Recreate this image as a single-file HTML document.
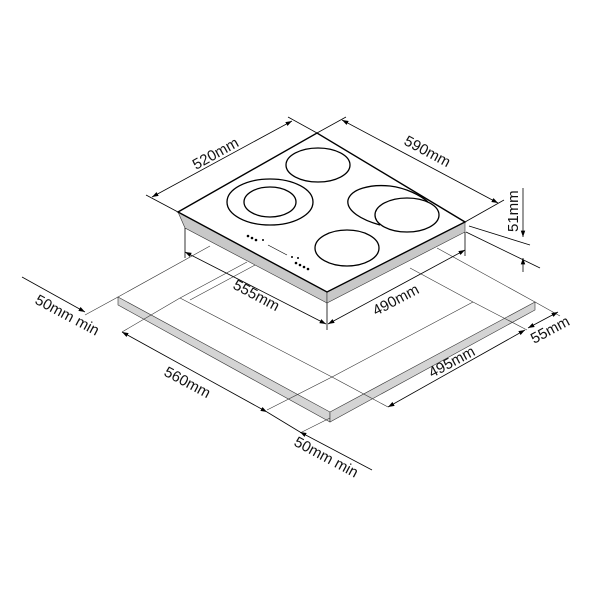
<!DOCTYPE html>
<html><head><style>body{margin:0;background:#fff}svg{display:block}text{font-family:"Liberation Sans",Arial,sans-serif;font-size:15px;fill:#111}</style></head><body>
<svg width="600" height="600" viewBox="0 0 600 600" xmlns="http://www.w3.org/2000/svg">
<defs><marker id="a" viewBox="0 0 10 10" refX="10" refY="5" markerWidth="8" markerHeight="8" orient="auto-start-reverse"><path d="M0,1.5L10,5L0,8.5z" fill="#000"/></marker></defs>
<g stroke="#333" stroke-width="0.6" fill="none">
<polygon points="118,297 330,412 330,422 118,305" fill="#d4d4d4"/>
<polygon points="330,412 535,302 535,310 330,422" fill="#d4d4d4"/>
<line x1="118" y1="297" x2="210" y2="246"/>
<line x1="535" y1="302" x2="437" y2="248"/>
<line x1="180" y1="298" x2="247" y2="262"/>
<line x1="190" y1="300" x2="257" y2="264"/>
<line x1="473" y1="302" x2="410" y2="268"/>
<line x1="180" y1="298" x2="332" y2="377"/>
<line x1="332" y1="377" x2="473" y2="302"/>
<line x1="85" y1="315" x2="118" y2="297"/>
<line x1="122" y1="332" x2="180" y2="298"/>
<line x1="267" y1="410" x2="332" y2="377"/>
<line x1="300" y1="433" x2="330" y2="418"/>
<line x1="332" y1="377" x2="388" y2="407"/>
<line x1="473" y1="302" x2="527" y2="330"/>
<line x1="535" y1="302" x2="560" y2="316"/>
</g>
<polygon points="178,212 327,292 327,303 185,228" fill="#c8c8c8" stroke="#333" stroke-width="0.6"/>
<polygon points="327,292 465,222 465,232 327,303" fill="#c8c8c8" stroke="#333" stroke-width="0.6"/>
<polygon points="178,212 317,133 465,222 327,292" fill="#fff" stroke="#000" stroke-width="1.4"/>
<g fill="none" stroke="#000" stroke-width="1.3">
<ellipse cx="318" cy="165" rx="32" ry="17"/>
<ellipse cx="270" cy="202" rx="43" ry="23"/>
<ellipse cx="270" cy="202" rx="26" ry="15"/>
<ellipse cx="347" cy="248" rx="32" ry="18"/>
<path d="M380,225 C362,220 346,211 348,200 C351,189 370,184 390,186 C406,188 420,195 428,202"/>
<ellipse cx="407" cy="215" rx="32" ry="17"/>
</g>
<g fill="#000"><circle cx="248" cy="236" r="1.3"/><circle cx="252" cy="238" r="1.3"/><circle cx="256" cy="240" r="1.3"/><circle cx="263" cy="240" r="1"/><circle cx="296" cy="263" r="1.3"/><circle cx="300" cy="265" r="1.3"/><circle cx="304" cy="267" r="1.3"/><circle cx="308" cy="269" r="1.3"/><circle cx="292" cy="257" r="1"/><circle cx="298" cy="258" r="1"/></g>
<line x1="268" y1="245" x2="287" y2="255" stroke="#000" stroke-width="0.6"/>
<g stroke="#000" stroke-width="0.8" fill="none">
<line x1="178" y1="212" x2="146" y2="195"/><line x1="317" y1="133" x2="288" y2="117"/>
<line x1="152" y1="197" x2="292" y2="121" marker-start="url(#a)" marker-end="url(#a)"/>
<line x1="317" y1="133" x2="346" y2="117"/><line x1="465" y1="222" x2="504" y2="200"/>
<line x1="342" y1="120" x2="498" y2="203" marker-start="url(#a)" marker-end="url(#a)"/>
<line x1="469" y1="226" x2="530" y2="245"/><line x1="466" y1="232" x2="540" y2="268"/>
<line x1="523" y1="188" x2="523" y2="237" marker-end="url(#a)"/>
<line x1="523" y1="272" x2="523" y2="258" marker-end="url(#a)"/>
<line x1="185" y1="228" x2="185" y2="258"/><line x1="327" y1="303" x2="327" y2="330"/><line x1="465" y1="232" x2="465" y2="256"/>
<line x1="185" y1="252" x2="326" y2="324" marker-start="url(#a)" marker-end="url(#a)"/>
<line x1="328" y1="324" x2="465" y2="250" marker-start="url(#a)" marker-end="url(#a)"/>
<line x1="22" y1="277" x2="85" y2="312" marker-end="url(#a)"/>
<line x1="122" y1="332" x2="267" y2="412" marker-start="url(#a)" marker-end="url(#a)"/>
<line x1="372" y1="470" x2="300" y2="432" marker-end="url(#a)"/>
<line x1="267" y1="412" x2="300" y2="432"/>
<line x1="388" y1="407" x2="525" y2="330" marker-start="url(#a)" marker-end="url(#a)"/>
<line x1="528" y1="328" x2="558" y2="312" marker-start="url(#a)" marker-end="url(#a)"/>
</g>
<text transform="translate(196,170) rotate(-29)">520mm</text>
<text transform="translate(403,144) rotate(28)">590mm</text>
<text transform="translate(518,232) rotate(-90)">51mm</text>
<text transform="translate(232,288) rotate(28)">555mm</text>
<text transform="translate(376,316) rotate(-28)">490mm</text>
<text transform="translate(34,303) rotate(28)">50mm min</text>
<text transform="translate(163,375) rotate(28)">560mm</text>
<text transform="translate(293,445) rotate(28)">50mm min</text>
<text transform="translate(432,378) rotate(-28)">495mm</text>
<text transform="translate(534,344) rotate(-28)">55mm</text>
</svg>
</body></html>
